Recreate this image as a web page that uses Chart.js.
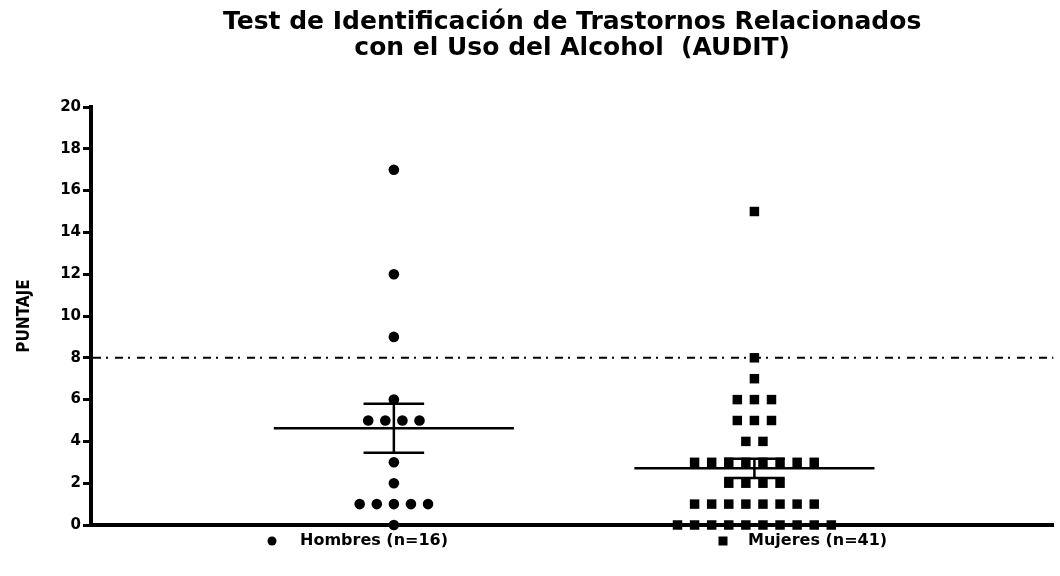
<!DOCTYPE html>
<html>
<head>
<meta charset="utf-8">
<script src="https://cdn.jsdelivr.net/npm/chart.js@4.4.1/dist/chart.umd.min.js"></script>
<style>
    body { margin: 0; background: #fff; }
    .chart-container { width: 1060px; height: 576px; }
</style>
</head>
<body>
<div class="chart-container">
    <canvas id="auditChart"></canvas>
</div>

<script>
// Scores, one entry per subject
const groupLabels = ['Hombres (n=16)', 'Mujeres (n=41)'];
const hombresScores = [17, 12, 9, 6, 5, 5, 5, 5, 3, 2, 1, 1, 1, 1, 1, 0];
const mujeresScores = [15, 8, 7, 6, 6, 6, 5, 5, 5, 4, 4,
    3, 3, 3, 3, 3, 3, 3, 3, 2, 2, 2, 2,
    1, 1, 1, 1, 1, 1, 1, 1, 0, 0, 0, 0, 0, 0, 0, 0, 0, 0];
const groupMeans = [4.63, 2.71];
const groupSems = [1.17, 0.46];
const cutoffScore = 8;
const yTickValues = [0, 2, 4, 6, 8, 10, 12, 14, 16, 18, 20];

// layout in x-axis units (one unit = distance between the two groups)
const POINT_SPACING = 0.0474;
const MEAN_HALF = 0.333;
const CAP_HALF = 0.084;

// spread equal scores side by side, centred on the group position
function spreadPoints(scores, center) {
    const counts = {};
    scores.forEach(v => counts[v] = (counts[v] || 0) + 1);
    const seen = {};
    return scores.map(v => {
        seen[v] = seen[v] === undefined ? 0 : seen[v] + 1;
        return { x: center + (seen[v] - (counts[v] - 1) / 2) * POINT_SPACING, y: v };
    });
}

const cutoffLinePlugin = {
    id: 'cutoffLine',
    beforeDatasetsDraw(chart) {
        const { ctx, chartArea, scales: { y } } = chart;
        const py = y.getPixelForValue(cutoffScore);
        ctx.save();
        ctx.strokeStyle = '#000';
        ctx.lineWidth = 2;
        ctx.setLineDash([8, 5, 2, 7]);
        ctx.beginPath();
        ctx.moveTo(chartArea.left + 2, py);
        ctx.lineTo(chartArea.right, py);
        ctx.stroke();
        ctx.restore();
    }
};

const meanSemPlugin = {
    id: 'meanSem',
    afterDatasetsDraw(chart) {
        const { ctx, scales: { x, y } } = chart;
        ctx.save();
        ctx.strokeStyle = '#000';
        ctx.lineWidth = 2.5;
        groupMeans.forEach((m, i) => {
            const cx = x.getPixelForValue(i);
            const yMean = y.getPixelForValue(m);
            const yHi = y.getPixelForValue(m + groupSems[i]);
            const yLo = y.getPixelForValue(m - groupSems[i]);
            const capL = x.getPixelForValue(i - CAP_HALF);
            const capR = x.getPixelForValue(i + CAP_HALF);
            ctx.beginPath();
            ctx.moveTo(x.getPixelForValue(i - MEAN_HALF), yMean);
            ctx.lineTo(x.getPixelForValue(i + MEAN_HALF), yMean);
            ctx.moveTo(cx, yLo);
            ctx.lineTo(cx, yHi);
            ctx.moveTo(capL, yHi);
            ctx.lineTo(capR, yHi);
            ctx.moveTo(capL, yLo);
            ctx.lineTo(capR, yLo);
            ctx.stroke();
        });
        ctx.restore();
    }
};

// legend under the axis, items spread wide like the original
const wideLegendPlugin = {
    id: 'wideLegend',
    afterDraw(chart) {
        const { ctx } = chart;
        const items = [
            { style: 'circle', markerX: 272, textX: 300 },
            { style: 'rect', markerX: 723, textX: 748 }
        ];
        const ly = 541;
        ctx.save();
        ctx.fillStyle = '#000';
        ctx.font = 'bold 16px "DejaVu Sans"';
        ctx.textBaseline = 'middle';
        ctx.textAlign = 'left';
        items.forEach((item, i) => {
            ctx.beginPath();
            if (item.style === 'circle') {
                ctx.arc(item.markerX, ly, 4.5, 0, Math.PI * 2);
            } else {
                ctx.rect(item.markerX - 4.5, ly - 4.5, 9, 9);
            }
            ctx.fill();
            ctx.fillText(chart.data.datasets[i].label, item.textX, ly);
        });
        ctx.restore();
    }
};

Chart.defaults.font.family = '"DejaVu Sans", sans-serif';
Chart.defaults.color = '#000';

const ctx = document.getElementById('auditChart').getContext('2d');
new Chart(ctx, {
    type: 'scatter',
    data: {
        datasets: [
            {
                label: groupLabels[0],
                data: spreadPoints(hombresScores, 0),
                pointStyle: 'circle',
                pointRadius: 5.3,
                pointHoverRadius: 5.3,
                backgroundColor: '#000',
                borderColor: '#000',
                borderWidth: 0,
                clip: false
            },
            {
                label: groupLabels[1],
                data: spreadPoints(mujeresScores, 1),
                pointStyle: 'rect',
                pointRadius: 6.7,
                pointHoverRadius: 6.7,
                backgroundColor: '#000',
                borderColor: '#000',
                borderWidth: 0,
                clip: false
            }
        ]
    },
    options: {
        responsive: true,
        maintainAspectRatio: false,
        animation: false,
        events: [],
        layout: {
            padding: { left: 0, right: 0, top: 0, bottom: 51 }
        },
        scales: {
            x: {
                type: 'linear',
                min: -0.84,
                max: 1.829,
                ticks: { display: false },
                grid: { display: false },
                border: { display: true, color: '#000', width: 4 },
                afterFit: function(scale) { scale.height = 0; }
            },
            y: {
                min: 0,
                max: 20,
                afterBuildTicks: function(scale) {
                    scale.ticks = yTickValues.map(v => ({ value: v }));
                },
                ticks: {
                    padding: 2,
                    font: { family: '"DejaVu Sans"', size: 15, weight: 'bold' },
                    color: '#000'
                },
                grid: {
                    drawOnChartArea: false,
                    drawTicks: true,
                    tickLength: 8,
                    tickWidth: 3,
                    tickColor: '#000'
                },
                border: { display: true, color: '#000', width: 4 },
                title: {
                    display: true,
                    text: 'PUNTAJE',
                    color: '#000',
                    font: { family: '"DejaVu Sans Condensed", "Liberation Sans Narrow", sans-serif', size: 17, weight: 'bold' },
                    padding: { top: 14, bottom: 0 }
                },
                afterFit: function(scale) { scale.width = 91; }
            }
        },
        plugins: {
            title: {
                display: true,
                fullSize: false,
                text: ['Test de Identificación de Trastornos Relacionados', 'con el Uso del Alcohol  (AUDIT)'],
                color: '#000',
                font: { family: '"DejaVu Sans"', size: 25, weight: 'bold', lineHeight: 1.06 },
                padding: { top: 9, bottom: 45 }
            },
            legend: { display: false },
            tooltip: { enabled: false }
        }
    },
    plugins: [cutoffLinePlugin, meanSemPlugin, wideLegendPlugin]
});
</script>
</body>
</html>
